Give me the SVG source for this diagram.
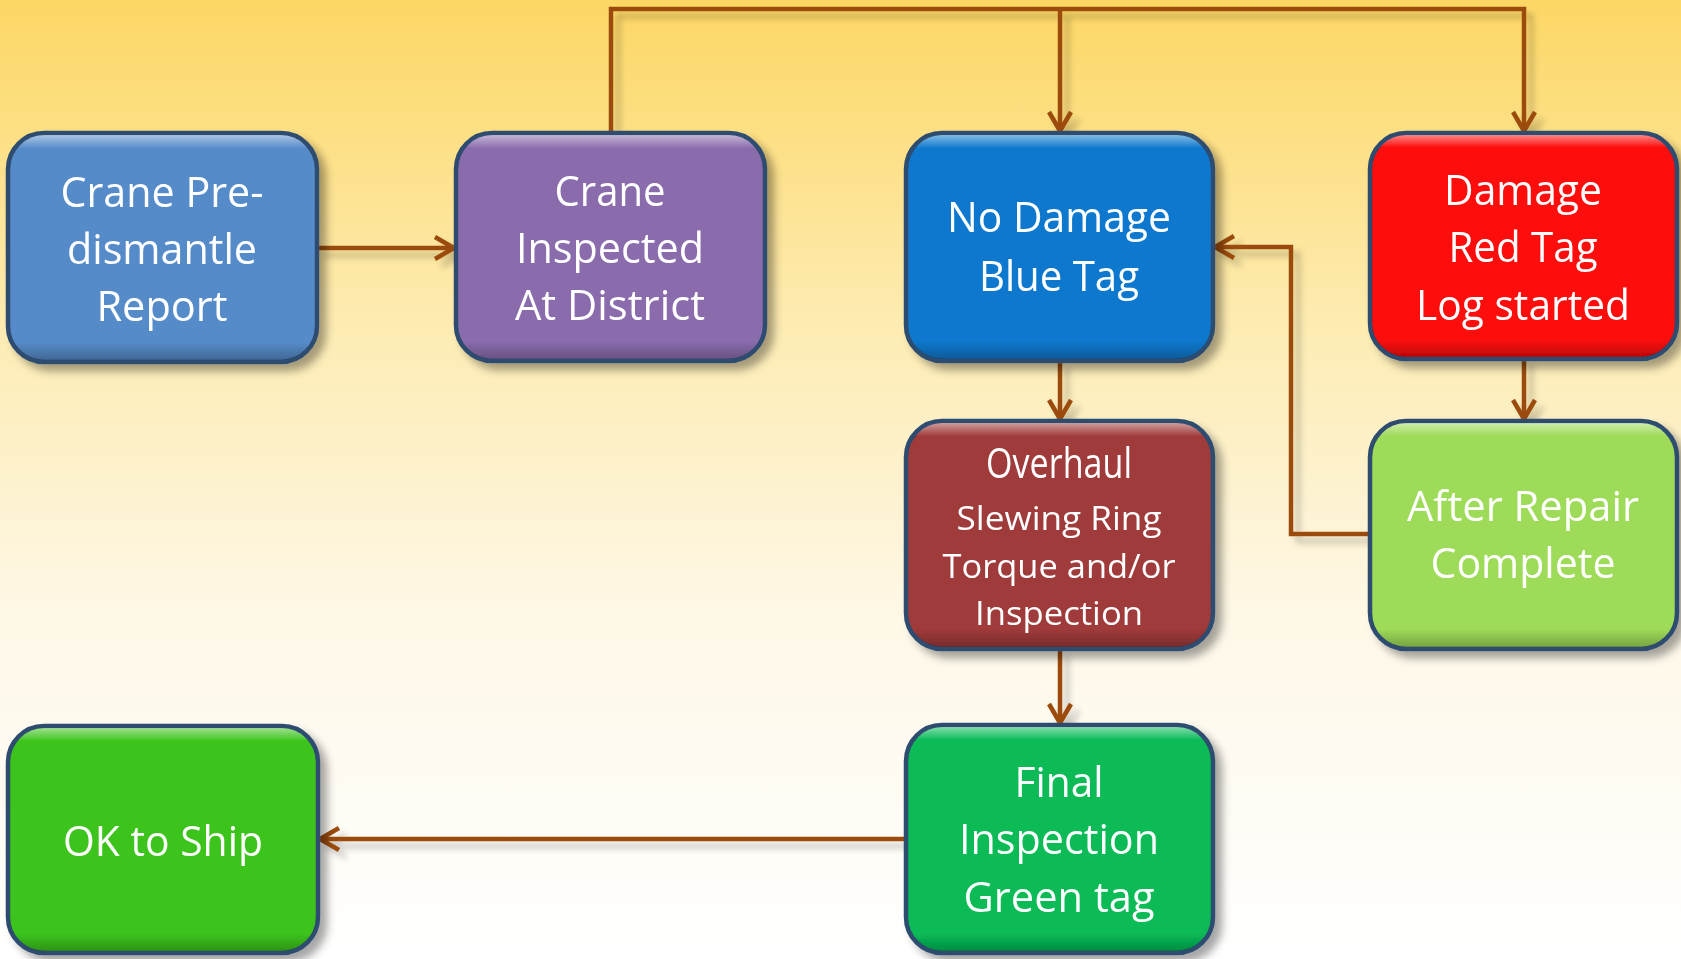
<svg xmlns="http://www.w3.org/2000/svg" width="1681" height="959" viewBox="0 0 1681 959">
<defs>
<linearGradient id="bg" x1="0" y1="0" x2="0" y2="1">
<stop offset="0" stop-color="#fdd765"/>
<stop offset="0.35" stop-color="#fdecb4"/>
<stop offset="0.65" stop-color="#fef8e8"/>
<stop offset="1" stop-color="#ffffff"/>
</linearGradient>
<linearGradient id="bevel" x1="0" y1="0" x2="0" y2="1">
<stop offset="0" stop-color="#ffffff" stop-opacity="0.5"/>
<stop offset="0.06" stop-color="#ffffff" stop-opacity="0"/>
<stop offset="0.92" stop-color="#000000" stop-opacity="0"/>
<stop offset="1" stop-color="#000000" stop-opacity="0.25"/>
</linearGradient>
<filter id="shadow" x="-20%" y="-20%" width="140%" height="140%">
<feDropShadow dx="7" dy="7" stdDeviation="4" flood-color="#000" flood-opacity="0.35"/>
</filter>
<filter id="lshadow" x="-10%" y="-10%" width="120%" height="120%">
<feDropShadow dx="7" dy="7" stdDeviation="3" flood-color="#000" flood-opacity="0.22"/>
</filter>
<marker id="arr" markerUnits="userSpaceOnUse" markerWidth="30" markerHeight="30" viewBox="-24 -15 30 30" refX="0" refY="0" orient="auto">
<path d="M -19 -11 L 0 0 L -19 11" fill="none" stroke="#9b4b08" stroke-width="4.5" stroke-linejoin="miter"/>
</marker>
</defs>
<style>
.box{stroke:#2d4b6f;stroke-width:4.5}
.bev{fill:url(#bevel);stroke:none}
.t{font-family:"Open Sans","Noto Sans",sans-serif;fill:#ffffff;font-size:42px;text-anchor:middle}
.s{font-size:32px}
.c{fill:none;stroke:#9b4b08;stroke-width:4.5;stroke-linejoin:miter}
</style>
<rect x="0" y="0" width="1681" height="959" fill="url(#bg)"/>

<g id="connectors" filter="url(#lshadow)">
<path class="c" d="M 317 248 H 454" marker-end="url(#arr)"/>
<path class="c" d="M 611 133 V 9 H 1524 V 131" marker-end="url(#arr)"/>
<path class="c" d="M 1060 9 V 131" marker-end="url(#arr)"/>
<path class="c" d="M 1060 361 V 419" marker-end="url(#arr)"/>
<path class="c" d="M 1524 358 V 419" marker-end="url(#arr)"/>
<path class="c" d="M 1370 534 H 1291 V 247 H 1215" marker-end="url(#arr)"/>
<path class="c" d="M 1060 649 V 723" marker-end="url(#arr)"/>
<path class="c" d="M 905 839 H 320" marker-end="url(#arr)"/>
</g>

<g id="node-predismantle" filter="url(#shadow)">
<rect class="box" x="8" y="133" width="309" height="229" rx="36" fill="#578bc9"/>
<rect class="bev" x="10" y="135" width="305" height="225" rx="34"/>
<text class="t" x="162" y="207" textLength="203" lengthAdjust="spacingAndGlyphs">Crane Pre-</text>
<text class="t" x="162" y="264" textLength="190" lengthAdjust="spacingAndGlyphs">dismantle</text>
<text class="t" x="162" y="321" textLength="131" lengthAdjust="spacingAndGlyphs">Report</text>
</g>

<g id="node-inspected" filter="url(#shadow)">
<rect class="box" x="456" y="133" width="309" height="228" rx="36" fill="#8a6cad"/>
<rect class="bev" x="458" y="135" width="305" height="224" rx="34"/>
<text class="t" x="610" y="206" textLength="111" lengthAdjust="spacingAndGlyphs">Crane</text>
<text class="t" x="610" y="263" textLength="188" lengthAdjust="spacingAndGlyphs">Inspected</text>
<text class="t" x="610" y="320" textLength="190" lengthAdjust="spacingAndGlyphs">At District</text>
</g>

<g id="node-nodamage" filter="url(#shadow)">
<rect class="box" x="906" y="133" width="307" height="228" rx="36" fill="#0a78cd"/>
<rect class="bev" x="908" y="135" width="303" height="224" rx="34"/>
<text class="t" x="1059" y="232" textLength="224" lengthAdjust="spacingAndGlyphs">No Damage</text>
<text class="t" x="1059" y="291" textLength="160" lengthAdjust="spacingAndGlyphs">Blue Tag</text>
</g>

<g id="node-damage" filter="url(#shadow)">
<rect class="box" x="1370" y="133" width="307" height="226" rx="36" fill="#fe0808"/>
<rect class="bev" x="1372" y="135" width="303" height="222" rx="34"/>
<text class="t" x="1523" y="205" textLength="158" lengthAdjust="spacingAndGlyphs">Damage</text>
<text class="t" x="1523" y="262" textLength="149" lengthAdjust="spacingAndGlyphs">Red Tag</text>
<text class="t" x="1523" y="320" textLength="214" lengthAdjust="spacingAndGlyphs">Log started</text>
</g>

<g id="node-overhaul" filter="url(#shadow)">
<rect class="box" x="906" y="421" width="307" height="228" rx="36" fill="#a03a3a"/>
<rect class="bev" x="908" y="423" width="303" height="224" rx="34"/>
<text class="t" x="1059" y="478" font-size="40" textLength="146" lengthAdjust="spacingAndGlyphs">Overhaul</text>
<text class="t s" x="1059" y="530" textLength="205" lengthAdjust="spacingAndGlyphs">Slewing Ring</text>
<text class="t s" x="1059" y="578" textLength="233" lengthAdjust="spacingAndGlyphs">Torque and/or</text>
<text class="t s" x="1059" y="625" textLength="168" lengthAdjust="spacingAndGlyphs">Inspection</text>
</g>

<g id="node-afterrepair" filter="url(#shadow)">
<rect class="box" x="1370" y="421" width="307" height="228" rx="36" fill="#9edb58"/>
<rect class="bev" x="1372" y="423" width="303" height="224" rx="34"/>
<text class="t" x="1523" y="521" textLength="232" lengthAdjust="spacingAndGlyphs">After Repair</text>
<text class="t" x="1523" y="578" textLength="185" lengthAdjust="spacingAndGlyphs">Complete</text>
</g>

<g id="node-final" filter="url(#shadow)">
<rect class="box" x="906" y="725" width="307" height="228" rx="36" fill="#07bb57"/>
<rect class="bev" x="908" y="727" width="303" height="224" rx="34"/>
<text class="t" x="1059" y="797" textLength="89" lengthAdjust="spacingAndGlyphs">Final</text>
<text class="t" x="1059" y="854" textLength="200" lengthAdjust="spacingAndGlyphs">Inspection</text>
<text class="t" x="1059" y="912" textLength="191" lengthAdjust="spacingAndGlyphs">Green tag</text>
</g>

<g id="node-oktoship" filter="url(#shadow)">
<rect class="box" x="8" y="726" width="310" height="227" rx="36" fill="#3cc41c"/>
<rect class="bev" x="10" y="728" width="306" height="223" rx="34"/>
<text class="t" x="163" y="856" textLength="200" lengthAdjust="spacingAndGlyphs">OK to Ship</text>
</g>
</svg>
